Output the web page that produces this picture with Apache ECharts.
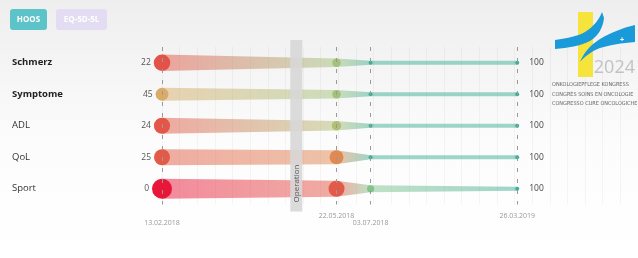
<!DOCTYPE html>
<html>
<head>
<meta charset="utf-8">
<script src="https://cdn.jsdelivr.net/npm/echarts@6/dist/echarts.min.js"></script>
<style>
  html, body { margin: 0; padding: 0; background: #fff; }
  #chart { width: 638px; height: 258px; }
</style>
</head>
<body>
<div id="chart"></div>
<script>
// rows and measurement dates
var rows = ['Schmerz', 'Symptome', 'ADL', 'QoL', 'Sport'];
var boldRows = ['Schmerz', 'Symptome'];
var dates = ['13.02.2018', '22.05.2018', '03.07.2018', '26.03.2019'];
var operationDate = '12.04.2018';

// scores per row, one per date
var schmerz = [22, 72, 100, 100];
var symptome = [45, 72, 100, 100];
var adl = [24, 66, 100, 100];
var qol = [25, 38, 100, 100];
var sport = [0, 25, 80, 100];

var scores = [schmerz, symptome, adl, qol, sport];

// colour stops for score -> colour
var colorStops = [
  [0, '#e8173a'], [25, '#e25a48'], [38, '#de8a52'], [45, '#d9ab68'],
  [70, '#a9c277'], [85, '#6fc39a'], [100, '#3fae95']
];

function parseDate(s) {
  var p = s.split('.');
  return Date.UTC(+p[2], +p[1] - 1, +p[0]);
}
// axis runs on sqrt of days since the first date
function datePos(s) {
  return Math.sqrt((parseDate(s) - parseDate(dates[0])) / 86400000);
}
var positions = dates.map(datePos);
var opPos = datePos(operationDate);

function hex(c) { return [parseInt(c.substr(1, 2), 16), parseInt(c.substr(3, 2), 16), parseInt(c.substr(5, 2), 16)]; }
function col(v) {
  for (var i = 1; i < colorStops.length; i++) {
    if (v <= colorStops[i][0]) {
      var a = colorStops[i - 1], b = colorStops[i];
      var t = (v - a[0]) / (b[0] - a[0]);
      var ca = hex(a[1]), cb = hex(b[1]);
      return 'rgb(' + ca.map(function (x, k) { return Math.round(x + (cb[k] - x) * t); }).join(',') + ')';
    }
  }
  return colorStops[colorStops.length - 1][1];
}
function dia(v) { return 4 + 16 * (1 - v / 100); }

// sample a chain of cubic curves into polygon points (logo only)
function curvePoints(start, curves) {
  var pts = [start], cur = start;
  curves.forEach(function (c) {
    if (c.length === 1) { pts.push(c[0]); cur = c[0]; return; }
    for (var t = 0.125; t <= 1.0001; t += 0.125) {
      var u = 1 - t;
      pts.push([
        u * u * u * cur[0] + 3 * u * u * t * c[0][0] + 3 * u * t * t * c[1][0] + t * t * t * c[2][0],
        u * u * u * cur[1] + 3 * u * u * t * c[0][1] + 3 * u * t * t * c[1][1] + t * t * t * c[2][1]
      ]);
    }
    cur = c[2];
  });
  return pts;
}

var pointData = [];
var bandData = [];
for (var i = 0; i < rows.length; i++) {
  for (var j = 0; j < dates.length; j++) {
    var item = { value: [positions[j], i, scores[i][j], j] };
    if (j === dates.length - 1) {
      item.label = { position: 'right', distance: 10, color: '#444' };
    }
    pointData.push(item);
    if (j < dates.length - 1) {
      bandData.push([positions[j], positions[j + 1], i, scores[i][j], scores[i][j + 1]]);
    }
  }
}

var myChart = echarts.init(document.getElementById('chart'));

var logoText = '5.5px "DejaVu Sans Condensed", sans-serif';
var swooshA = curvePoints([555, 40], [
  [[568, 38], [578, 36], [585, 32]],
  [[593, 27], [599, 20], [602, 12]],
  [[604, 18]],
  [[603, 28], [598, 36], [590, 41]],
  [[580, 46], [568, 48], [555, 49]]
]);
var swooshB = curvePoints([580, 62], [
  [[583, 54], [590, 45], [600, 39]],
  [[610, 33], [622, 28], [635, 25]],
  [[635, 42]],
  [[622, 43], [610, 45], [600, 48]],
  [[592, 51], [585, 56], [580, 62]]
]);

var option = {
  backgroundColor: new echarts.graphic.LinearGradient(0, 0, 0, 1, [
    { offset: 0, color: '#eeeeee' },
    { offset: 0.55, color: '#fcfcfc' },
    { offset: 1, color: '#ffffff' }
  ]),
  animation: false,
  grid: { left: 162, top: 47, height: 157.5, width: 478 },
  xAxis: {
    type: 'value',
    min: 0,
    max: 27,
    interval: 1,
    axisLine: { show: false },
    axisTick: { show: false },
    splitLine: { show: true, lineStyle: { color: 'rgba(0,0,0,0.035)' } },
    axisLabel: {
      customValues: positions,
      margin: 8,
      formatter: function (val) {
        var best = 0;
        for (var k = 0; k < positions.length; k++) {
          if (Math.abs(positions[k] - val) < Math.abs(positions[best] - val)) best = k;
        }
        return (best % 2 === 0 ? '{lo|' : '{hi|') + dates[best] + '}';
      },
      rich: {
        lo: { padding: [7, 0, 0, 0], color: '#999', fontSize: 7, fontFamily: 'Open Sans' },
        hi: { color: '#999', fontSize: 7, fontFamily: 'Open Sans' }
      }
    }
  },
  yAxis: {
    type: 'category',
    inverse: true,
    data: rows,
    axisLine: { show: false },
    axisTick: { show: false },
    splitLine: { show: false },
    axisLabel: {
      align: 'left',
      margin: 150,
      formatter: function (v) {
        return boldRows.indexOf(v) >= 0 ? '{b|' + v + '}' : '{n|' + v + '}';
      },
      rich: {
        b: { fontWeight: 'bold', fontSize: 9.5, color: '#222', fontFamily: 'Open Sans' },
        n: { fontSize: 9.5, color: '#333', fontFamily: 'Open Sans' }
      }
    }
  },
  graphic: [
    {
      type: 'group', left: 10, top: 9,
      children: [
        { type: 'rect', shape: { x: 0, y: 0, width: 37, height: 21, r: 3 }, style: { fill: '#5cc3c9' } },
        { type: 'text', x: 18.5, y: 10.5, style: { text: 'HOOS', fill: '#fff', font: 'bold 8px "Open Sans"', align: 'center', verticalAlign: 'middle' } }
      ]
    },
    {
      type: 'group', left: 56, top: 9,
      children: [
        { type: 'rect', shape: { x: 0, y: 0, width: 51, height: 21, r: 3 }, style: { fill: '#e4dcf2' } },
        { type: 'text', x: 25.5, y: 10.5, style: { text: 'EQ-5D-5L', fill: '#fff', font: 'bold 8px "Open Sans"', align: 'center', verticalAlign: 'middle' } }
      ]
    },
    // congress logo
    { type: 'rect', shape: { x: 578, y: 12, width: 15, height: 65 }, style: { fill: '#f6e43c' }, z: 10 },
    { type: 'polygon', shape: { points: swooshA }, style: { fill: '#1a9ad8' }, z: 11 },
    { type: 'polygon', shape: { points: swooshB }, style: { fill: '#1a9ad8' }, z: 11 },
    { type: 'text', x: 622, y: 40, style: { text: '+', fill: '#fff', font: 'bold 7px sans-serif', align: 'center', verticalAlign: 'middle' }, z: 12 },
    { type: 'text', x: 635, y: 68, style: { text: '2024', fill: '#c2c2c2', font: '18px "Open Sans"', align: 'right', verticalAlign: 'middle' }, z: 11 },
    { type: 'text', x: 552, y: 85, style: { text: 'ONKOLOGIEPFLEGE KONGRESS', fill: '#666', font: logoText, verticalAlign: 'middle' }, z: 11 },
    { type: 'text', x: 552, y: 95, style: { text: 'CONGRÈS SOINS EN ONCOLOGIE', fill: '#666', font: logoText, verticalAlign: 'middle' }, z: 11 },
    { type: 'text', x: 552, y: 104, style: { text: 'CONGRESSO CURE ONCOLOGICHE', fill: '#666', font: logoText, verticalAlign: 'middle' }, z: 11 }
  ],
  series: [
    {
      name: 'bands',
      type: 'custom',
      z: 2,
      silent: true,
      encode: { x: [0, 1], y: 2 },
      data: bandData,
      renderItem: function (params, api) {
        var r = api.value(2);
        var v0 = api.value(3), v1 = api.value(4);
        var p0 = api.coord([api.value(0), r]);
        var p1 = api.coord([api.value(1), r]);
        var h0 = dia(v0) / 2, h1 = dia(v1) / 2;
        return {
          type: 'polygon',
          shape: { points: [[p0[0], p0[1] - h0], [p1[0], p1[1] - h1], [p1[0], p1[1] + h1], [p0[0], p0[1] + h0]] },
          style: {
            fill: new echarts.graphic.LinearGradient(0, 0, 1, 0, [
              { offset: 0, color: col(v0) }, { offset: 1, color: col(v1) }
            ]),
            opacity: 0.5
          }
        };
      }
    },
    {
      name: 'operation',
      type: 'custom',
      z: 3,
      silent: true,
      data: [[opPos, 0]],
      renderItem: function (params, api) {
        var cs = params.coordSys;
        var p = api.coord([api.value(0), 0]);
        return {
          type: 'group',
          children: [
            { type: 'rect', shape: { x: p[0] - 6, y: cs.y - 7, width: 12, height: cs.height + 14 }, style: { fill: 'rgba(215,215,215,0.9)' } },
            { type: 'text', x: p[0], y: cs.y + cs.height - 21, rotation: Math.PI / 2,
              style: { text: 'Operation', fill: '#555', font: '8px "Open Sans"', align: 'center', verticalAlign: 'middle' } }
          ]
        };
      }
    },
    {
      name: 'points',
      type: 'scatter',
      z: 4,
      data: pointData,
      symbolSize: function (d) { return d[2] >= 100 ? 4 : dia(d[2]); },
      itemStyle: {
        opacity: 1,
        color: function (p) { return col(p.value[2]); }
      },
      label: {
        show: true,
        fontSize: 8.5,
        fontFamily: 'Open Sans',
        color: '#555',
        position: 'left',
        distance: 3,
        formatter: function (p) {
          var j = p.value[3];
          return (j === 0 || j === dates.length - 1) ? String(p.value[2]) : '';
        }
      },
      markLine: {
        silent: true,
        symbol: 'none',
        label: { show: false },
        lineStyle: { type: [4, 7], color: '#999', width: 1 },
        data: positions.map(function (p) { return { xAxis: p }; })
      }
    }
  ]
};

myChart.setOption(option);
</script>
</body>
</html>
